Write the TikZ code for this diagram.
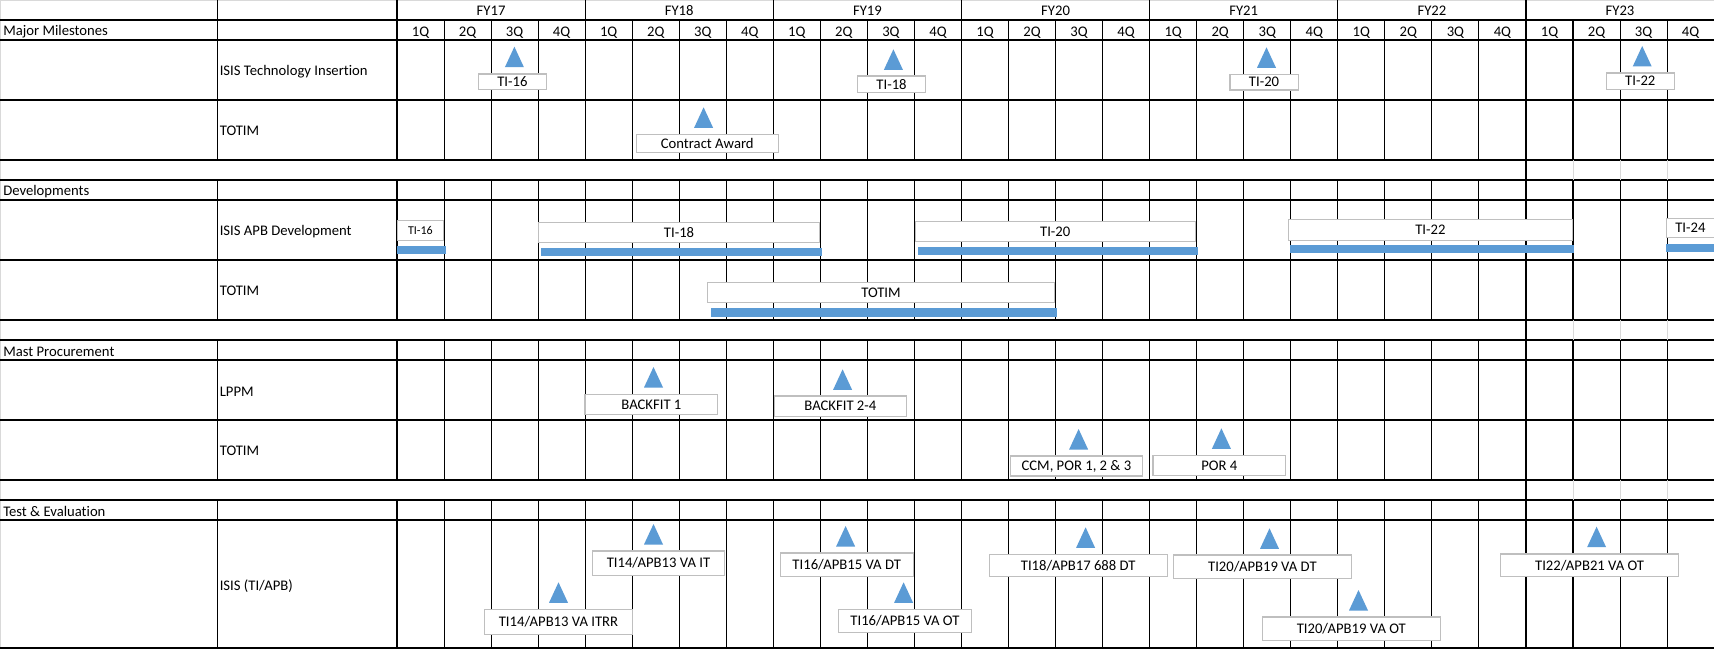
\documentclass[tikz,border=0pt]{standalone}
\usepackage{fontspec}
\setmainfont{Carlito}[Ligatures={NoCommon}]
\definecolor{msblue}{HTML}{5B9BD5}
\definecolor{boxgray}{HTML}{BFBFBF}
\definecolor{lgray}{HTML}{D9D9D9}
\newcommand\gbox[6]{%
  \pgfmathsetmacro\gbW{(#4-#2)*0.75}%
  \pgfmathsetmacro\gbH{(#5-#3)*0.75}%
  \node[box, minimum width=\gbW pt, minimum height=\gbH pt] (#1) at ({(#2+#4)/2},{(#3+#5)/2}) {#6};}
\newcommand\gtri[2]{\fill[msblue] ({#1-9.5},{#2+20.5}) -- (#1,#2) -- ({#1+9.5},{#2+20.5}) -- cycle;}
\newcommand\gbar[4]{\fill[msblue] (#1,#2) rectangle (#3,#4);}
\begin{document}
\begin{tikzpicture}[x=0.75pt,y=-0.75pt,
  grid/.style={line width=0.8pt, black},
  lbl/.style={font=\fontsize{11}{13}\selectfont, inner sep=0pt},
  box/.style={draw=boxgray, fill=white, line width=0.9pt, inner sep=0pt, font=\fontsize{11}{13}\selectfont}]
\useasboundingbox (0,0) rectangle (1714,649);
\fill[white] (0,0) rectangle (1714,649);
% borders
\draw[lgray, line width=1.2pt] (0,0.6) -- (1714,0.6);
\draw[lgray, line width=1.2pt] (0.6,0) -- (0.6,649);
% horizontal lines
\foreach \yy in {20,40,100,160,180,200,260,320,340,360,420,480,500,520,648}
  \draw[grid] (0,\yy) -- (1714,\yy);
% label column lines
\foreach \xx in {217.4,397} {
  \draw[grid] (\xx,0) -- (\xx,160);
  \draw[grid] (\xx,180) -- (\xx,320);
  \draw[grid] (\xx,340) -- (\xx,480);
  \draw[grid] (\xx,500) -- (\xx,648);
}
% quarter lines
\foreach \k in {1,...,27} {
  \pgfmathsetmacro\xx{397+47.04*\k}
  \draw[grid] (\xx,20) -- (\xx,160);
  \draw[grid] (\xx,180) -- (\xx,320);
  \draw[grid] (\xx,340) -- (\xx,480);
  \draw[grid] (\xx,500) -- (\xx,648);
}
% FY boundaries in header
\foreach \k in {1,...,6} {
  \pgfmathsetmacro\xx{397+188.16*\k}
  \draw[grid] (\xx,0) -- (\xx,20);
}
% FY23 gridline artefacts in gap rows
\foreach \yy in {160,320,480} {
  \draw[grid] (1526,\yy) -- (1526,\yy+20);
  \foreach \k in {1,2,3}
    \draw[lgray, line width=0.8pt] ({1526+47.04*\k},\yy) -- ({1526+47.04*\k},\yy+20);
}
% header labels
\foreach \i/\t in {0/FY17,1/FY18,2/FY19,3/FY20,4/FY21,5/FY22,6/FY23}
  \node[lbl, anchor=base] (fy\i) at ({397+188.16*(\i+0.5)},16) {\t};
\foreach \k in {0,...,27} {
  \pgfmathtruncatemacro\qn{mod(\k,4)+1}
  \node[lbl, anchor=base] (q\k) at ({397+47.04*(\k+0.5)},36.5) {\qn Q};
}
% row labels
\node[lbl, anchor=base west] (mm) at (3,36) {Major Milestones};
\node[lbl, anchor=base west] (dev) at (3,196) {Developments};
\node[lbl, anchor=base west] (mp) at (3,356) {Mast Procurement};
\node[lbl, anchor=base west] (te) at (3,516) {Test \& Evaluation};
\node[lbl, anchor=base west] (r1) at (219.5,76) {ISIS Technology Insertion};
\node[lbl, anchor=base west] (r2) at (219.5,135.5) {TOTIM};
\node[lbl, anchor=base west] (r3) at (219.5,236) {ISIS APB Development};
\node[lbl, anchor=base west] (r4) at (219.5,295.5) {TOTIM};
\node[lbl, anchor=base west] (r5) at (219.5,396) {LPPM};
\node[lbl, anchor=base west] (r6) at (219.5,455.5) {TOTIM};
\node[lbl, anchor=base west] (r7) at (219.5,590.5) {ISIS (TI/APB)};
% Major milestones
\gtri{514.4}{46.7}
\gbox{b1}{478.4}{74}{546.5}{89.8}{TI-16}
\gtri{893.4}{49.3}
\gbox{b2}{857.5}{76}{925.6}{92.3}{TI-18}
\gtri{703.6}{107.3}
\gbox{b3}{636.3}{134.3}{778.2}{152.3}{Contract Award}
\gtri{1266.5}{47.3}
\gbox{b4}{1229.9}{74.3}{1298.2}{90}{TI-20}
\gtri{1642.2}{46}
\gbox{b5}{1606.1}{73}{1674.5}{89.3}{TI-22}
% Developments
\gbox{d1}{397.2}{220.3}{443.6}{240.3}{\fontsize{9}{11}\selectfont TI-16}
\gbar{397.2}{246}{445.8}{253.7}
\gbox{d2}{538.5}{222.3}{819.6}{242.3}{TI-18}
\gbar{541.1}{248}{821.5}{256}
\gbox{d3}{915.2}{221.3}{1195.3}{241.3}{TI-20}
\gbar{917.9}{247}{1198.2}{254.7}
\gbox{d4}{1288.5}{219.3}{1572.3}{240.3}{TI-22}
\gbar{1290.3}{245}{1573.7}{253}
\gbox{d5}{1666.2}{218.3}{1714.5}{237.3}{TI-24}
\gbar{1666.2}{244}{1716}{252}
\gbox{d6}{707.4}{282.3}{1054.6}{302.3}{TOTIM}
\gbar{710.9}{308.3}{1057.2}{316.7}
% Mast procurement
\gtri{653.5}{367}
\gbox{m1}{585}{394.3}{717.8}{414.3}{BACKFIT 1}
\gtri{842.6}{369.3}
\gbox{m2}{774.4}{396}{906.4}{416.3}{BACKFIT 2-4}
\gtri{1078.6}{429}
\gbox{m3}{1010.2}{456}{1142.6}{476}{CCM, POR 1, 2 \& 3}
\gtri{1221.4}{428.3}
\gbox{m4}{1152.9}{455.3}{1285.6}{475.3}{POR 4}
% Test & Evaluation
\gtri{558.5}{582.3}
\gbox{t1}{484.5}{609.3}{632.4}{634.3}{TI14/APB13 VA ITRR}
\gtri{653.5}{524}
\gbox{t2}{592.2}{551}{724.7}{575.3}{TI14/APB13 VA IT}
\gtri{845.6}{526}
\gbox{t3}{780.2}{553}{913.3}{576.7}{TI16/APB15 VA DT}
\gtri{903.6}{582.3}
\gbox{t4}{838.3}{609.3}{971.5}{632.3}{TI16/APB15 VA OT}
\gtri{1085.6}{527.3}
\gbox{t5}{989.1}{554.3}{1167.4}{576.7}{TI18/APB17 688 DT}
\gtri{1269.5}{528.3}
\gbox{t6}{1173.4}{555}{1351.4}{578.7}{TI20/APB19 VA DT}
\gtri{1358.5}{590}
\gbox{t7}{1262.2}{617}{1440.3}{640.7}{TI20/APB19 VA OT}
\gtri{1596.6}{526.7}
\gbox{t8}{1500.4}{554}{1678.8}{576.7}{TI22/APB21 VA OT}
\end{tikzpicture}
\end{document}
